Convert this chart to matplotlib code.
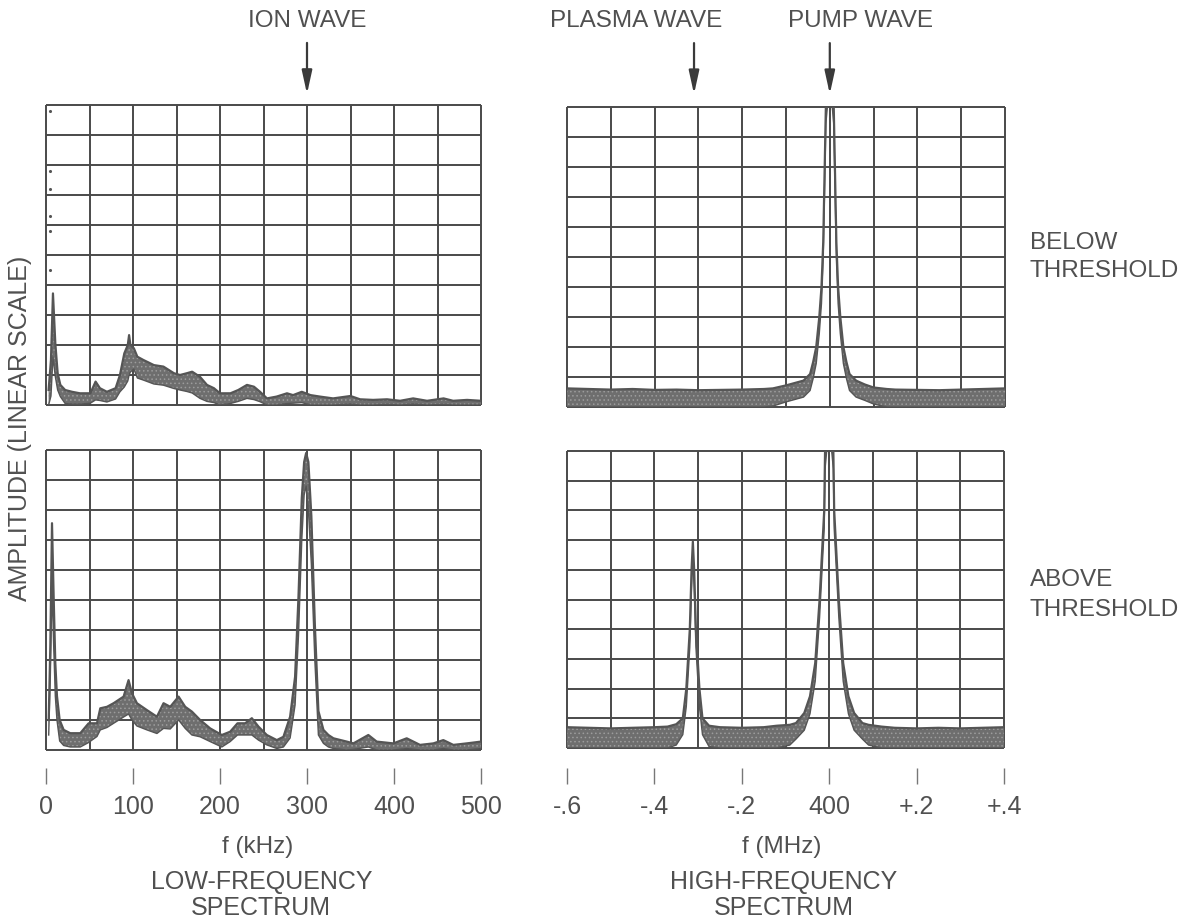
import numpy as np
import matplotlib
matplotlib.use("Agg")
import matplotlib.pyplot as plt

# ---------------- data ----------------
lf_ticks = [0, 100, 200, 300, 400, 500]
lf_tick_labels = ["0", "100", "200", "300", "400", "500"]
hf_ticks = [-0.6, -0.4, -0.2, 0.0, 0.2, 0.4]
hf_tick_labels = ["-.6", "-.4", "-.2", "400", "+.2", "+.4"]

ion_wave_khz = 300
plasma_wave_mhz = -0.31
pump_wave_mhz = 0.0

# low-frequency spectrum, below threshold (kHz, amplitude in divisions)
lf_below_x = [3, 5.7, 8, 10.7, 13.4, 16.5, 22, 30, 39, 51,
              57, 62, 70, 80, 85, 90, 94, 95.5, 97, 101,
              105, 112, 124, 135, 147, 154, 162, 168, 177, 185,
              193, 200, 212, 221, 231, 239, 246, 254, 265, 277,
              284, 294, 304, 315, 330, 350, 361, 376, 392, 407,
              422, 438, 457, 468, 484, 500]
lf_below_hi = [0.5, 1.5, 3.72, 2.06, 1.06, 0.67, 0.5, 0.44, 0.39, 0.39,
               0.78, 0.56, 0.44, 0.56, 1.0, 1.72, 2.0, 2.33, 2.0, 1.89,
               1.61, 1.5, 1.33, 1.28, 1.06, 1.0, 1.06, 1.11, 0.94, 0.67,
               0.56, 0.39, 0.39, 0.5, 0.67, 0.61, 0.44, 0.22, 0.28, 0.39,
               0.33, 0.44, 0.33, 0.28, 0.22, 0.30, 0.19, 0.17, 0.19, 0.14,
               0.22, 0.14, 0.22, 0.14, 0.17, 0.14]
lf_below_lo = [0.0, 0.3, 1.6, 0.95, 0.5, 0.28, 0.05, 0.03, 0.03, 0.06,
               0.17, 0.15, 0.1, 0.2, 0.44, 0.6, 0.8, 1.0, 1.1, 1.2,
               0.9, 0.83, 0.7, 0.66, 0.55, 0.5, 0.45, 0.4, 0.22, 0.12,
               0.08, 0.0, 0.05, 0.12, 0.22, 0.18, 0.11, 0.0, 0.0, 0.05,
               0.06, 0.08, 0.0, 0.0, 0.0, 0.03, 0.0, 0.0, 0.02, 0.0,
               0.03, 0.0, 0.02, 0.0, 0.0, 0.0]
lf_below_dots_x = [5, 5, 5, 5, 5, 5]
lf_below_dots_amp = [9.8, 7.8, 7.2, 6.3, 5.8, 4.5]

# low-frequency spectrum, above threshold
lf_above_x = [3.1, 5.0, 6.9, 8.8, 10.7, 12.6, 15.7, 20.3, 27.9, 39.4,
              49.0, 58.6, 62.4, 70.1, 77.7, 89.2, 94.9, 98.8, 104.5, 116.0,
              127.5, 135.1, 142.8, 152.4, 160.0, 167.7, 177.2, 188.7, 202.1, 211.7,
              220.1, 228.9, 236.6, 244.2, 253.8, 265.3, 272.9, 280.6, 286.3, 290.2,
              294.0, 296.7, 299.0, 301.6, 305.0, 309.0, 313.1, 318.9, 324.6, 330.4,
              345.7, 353.3, 370.5, 380.1, 399.3, 414.6, 429.9, 445.2, 456.7, 468.2,
              483.5, 500]
lf_above_hi = [1.0, 3.5, 7.56, 5.1, 2.9, 1.8, 1.0, 0.67, 0.56, 0.56,
               0.89, 0.89, 1.39, 1.44, 1.56, 1.78, 2.33, 1.89, 1.56, 1.33,
               1.11, 1.56, 1.44, 1.78, 1.44, 1.28, 1.0, 0.72, 0.5, 0.61,
               0.89, 0.89, 1.06, 0.78, 0.5, 0.33, 0.44, 1.11, 2.44, 5.1,
               8.4, 9.6, 9.9, 9.6, 7.8, 4.2, 1.3, 0.67, 0.5, 0.39,
               0.28, 0.22, 0.5, 0.28, 0.22, 0.39, 0.17, 0.22, 0.33, 0.17,
               0.22, 0.28]
lf_above_lo = [0.5, 2.5, 5.5, 3.5, 1.8, 1.0, 0.3, 0.15, 0.1, 0.1,
               0.25, 0.45, 0.67, 0.75, 0.89, 1.1, 1.2, 1.0, 0.8, 0.67,
               0.55, 0.72, 0.7, 1.0, 0.72, 0.5, 0.44, 0.28, 0.1, 0.28,
               0.5, 0.5, 0.5, 0.33, 0.17, 0.05, 0.1, 0.4, 1.5, 3.8,
               7.0, 8.5, 8.8, 8.0, 6.2, 3.0, 0.5, 0.22, 0.1, 0.05,
               0.0, 0.02, 0.1, 0.0, 0.0, 0.05, 0.0, 0.0, 0.05, 0.0,
               0.0, 0.05]

# high-frequency spectrum, below threshold (MHz offset from 400 MHz)
hf_below_x = [-0.6, -0.55, -0.5, -0.45, -0.4, -0.35, -0.3, -0.25, -0.2, -0.15,
              -0.13, -0.10, -0.08, -0.06, -0.045, -0.038, -0.031, -0.024, -0.019, -0.015,
              -0.013, -0.011, -0.009, 0.0, 0.009, 0.011, 0.013, 0.015, 0.019, 0.024,
              0.031, 0.038, 0.045, 0.06, 0.08, 0.10, 0.13, 0.15, 0.2, 0.25,
              0.3, 0.35, 0.4]
hf_below_hi = [0.62, 0.6, 0.58, 0.6, 0.57, 0.58, 0.56, 0.57, 0.58, 0.6,
               0.62, 0.72, 0.8, 0.88, 1.1, 1.5, 2.0, 3.0, 4.0, 5.5,
               7.0, 8.5, 10.0, 11.5, 10.0, 8.5, 7.0, 5.5, 4.0, 3.0,
               2.0, 1.5, 1.1, 0.88, 0.75, 0.65, 0.6, 0.58, 0.57, 0.56,
               0.58, 0.6, 0.62]
hf_below_lo = [0, 0, 0, 0, 0, 0, 0, 0, 0, 0,
               0.03, 0.17, 0.25, 0.33, 0.55, 0.95, 1.45, 2.45, 3.45, 4.95,
               6.45, 7.95, 9.45, 10.9, 9.45, 7.95, 6.45, 4.95, 3.45, 2.45,
               1.45, 0.95, 0.55, 0.33, 0.22, 0.1, 0, 0, 0, 0,
               0, 0, 0]

# high-frequency spectrum, above threshold
hf_above_x = [-0.6, -0.55, -0.5, -0.45, -0.4, -0.37, -0.35, -0.335, -0.327, -0.319,
              -0.315, -0.312, -0.309, -0.305, -0.297, -0.29, -0.275, -0.25, -0.2, -0.15,
              -0.12, -0.09, -0.076, -0.057, -0.044, -0.032, -0.022, -0.0114, -0.0095, 0.0,
              0.0095, 0.0114, 0.022, 0.032, 0.044, 0.057, 0.076, 0.09, 0.12, 0.15,
              0.2, 0.25, 0.3, 0.35, 0.4]
hf_above_hi = [0.7, 0.68, 0.66, 0.68, 0.7, 0.72, 0.8, 1.0, 2.0, 4.0,
               6.0, 6.95, 6.0, 4.0, 2.0, 1.0, 0.75, 0.7, 0.68, 0.7,
               0.75, 0.78, 0.84, 1.18, 1.74, 2.86, 5.0, 8.0, 10.0, 11.5,
               10.0, 8.0, 5.0, 2.86, 1.74, 1.18, 0.84, 0.78, 0.72, 0.68,
               0.66, 0.68, 0.66, 0.68, 0.7]
hf_above_lo = [0, 0, 0, 0, 0, 0.0, 0.1, 0.45, 1.4, 3.4,
               5.4, 6.4, 5.4, 3.4, 1.4, 0.45, 0.05, 0, 0, 0,
               0, 0.1, 0.3, 0.6, 1.15, 2.25, 4.4, 7.4, 9.4, 10.9,
               9.4, 7.4, 4.4, 2.25, 1.15, 0.6, 0.3, 0.1, 0, 0,
               0, 0, 0, 0, 0]

# ---------------- style ----------------
plt.rcParams["font.family"] = ["Liberation Sans", "DejaVu Sans"]
plt.rcParams["hatch.linewidth"] = 0.6
TXT = "#505050"
GRID = "#4a4a4a"
FILL = "#6e6e6e"
EDGE = "#555555"

W, H = 1189, 919
fig = plt.figure(figsize=(W / 100, H / 100), dpi=100)
fig.patch.set_facecolor("white")


def box(x0, y0, x1, y1):
    return [x0 / W, 1 - y1 / H, (x1 - x0) / W, (y1 - y0) / H]


ax_tl = fig.add_axes(box(46, 105, 481, 405))
ax_tr = fig.add_axes(box(567, 107, 1005, 407))
ax_bl = fig.add_axes(box(46, 450, 481, 750))
ax_br = fig.add_axes(box(567, 451, 1004, 748))

N_DIV = 10
AMP_MAX = 10


def panel(ax, xlim, x, lo, hi):
    ax.set_xlim(*xlim)
    ax.set_ylim(0, AMP_MAX)
    gx = np.linspace(xlim[0], xlim[1], N_DIV + 1)
    gy = np.linspace(0, AMP_MAX, N_DIV + 1)
    ax.vlines(gx, 0, AMP_MAX, color=GRID, lw=1.4, zorder=2, clip_on=False)
    ax.hlines(gy, xlim[0], xlim[1], color=GRID, lw=1.4, zorder=2, clip_on=False)
    ax.fill_between(x, lo, hi, facecolor=FILL, edgecolor="#9c9c9c", hatch="....",
                    lw=0, zorder=3)
    ax.plot(x, hi, color=EDGE, lw=1.6, zorder=4, solid_joinstyle="round")
    ax.plot(x, lo, color=EDGE, lw=1.0, zorder=4, solid_joinstyle="round")
    for s in ax.spines.values():
        s.set_visible(False)
    ax.set_yticks([])
    ax.set_facecolor("none")


panel(ax_tl, (0, 500), lf_below_x, lf_below_lo, lf_below_hi)
panel(ax_bl, (0, 500), lf_above_x, lf_above_lo, lf_above_hi)
panel(ax_tr, (-0.6, 0.4), hf_below_x, hf_below_lo, hf_below_hi)
panel(ax_br, (-0.6, 0.4), hf_above_x, hf_above_lo, hf_above_hi)

ax_tl.scatter(lf_below_dots_x, lf_below_dots_amp, s=5, color=EDGE, zorder=4, lw=0)

for ax in (ax_tl, ax_tr):
    ax.set_xticks([])

for ax, ticks, labels, out in ((ax_bl, lf_ticks, lf_tick_labels, 13.0),
                               (ax_br, hf_ticks, hf_tick_labels, 14.4)):
    ax.spines["bottom"].set_position(("outward", out))
    ax.set_xticks(ticks)
    ax.set_xticklabels(labels)
    ax.tick_params(axis="x", direction="out", length=11.5, width=1.0,
                   color="#777777", pad=8, labelsize=18, labelcolor=TXT)

# arrows and wave labels
arrow_kw = dict(arrowstyle="-|>,head_length=1.0,head_width=0.22", lw=1.6,
                color="#3a3a3a", shrinkA=0, shrinkB=0, mutation_scale=14)
ax_tl.annotate("", xy=(ion_wave_khz, 1.037), xycoords=ax_tl.get_xaxis_transform(),
               xytext=(ion_wave_khz, 1.207), textcoords=ax_tl.get_xaxis_transform(),
               arrowprops=arrow_kw)
for xv in (plasma_wave_mhz, pump_wave_mhz):
    ax_tr.annotate("", xy=(xv, 1.043), xycoords=ax_tr.get_xaxis_transform(),
                   xytext=(xv, 1.213), textcoords=ax_tr.get_xaxis_transform(),
                   arrowprops=arrow_kw)


def ftext(x, y, s, size=17.5, ha="center", **kw):
    fig.text(x / W, 1 - y / H, s, fontsize=size, color=TXT, ha=ha, va="center", **kw)


ftext(307, 21, "ION WAVE")
ftext(636, 21, "PLASMA WAVE")
ftext(860, 21, "PUMP WAVE")

ftext(1030, 243, "BELOW", ha="left")
ftext(1030, 271, "THRESHOLD", ha="left")
ftext(1030, 580, "ABOVE", ha="left")
ftext(1030, 610, "THRESHOLD", ha="left")

fig.text(20 / W, 1 - 428 / H, "AMPLITUDE (LINEAR SCALE)", fontsize=18, color=TXT,
         ha="center", va="center", rotation=90)

ftext(258, 847, "f (kHz)", size=17.5)
ftext(262, 882, "LOW-FREQUENCY", size=18)
ftext(261, 908, "SPECTRUM", size=18)
ftext(782, 847, "f (MHz)", size=17.5)
ftext(784, 882, "HIGH-FREQUENCY", size=18)
ftext(784, 908, "SPECTRUM", size=18)

fig.savefig("out.png", dpi=100, facecolor="white")
